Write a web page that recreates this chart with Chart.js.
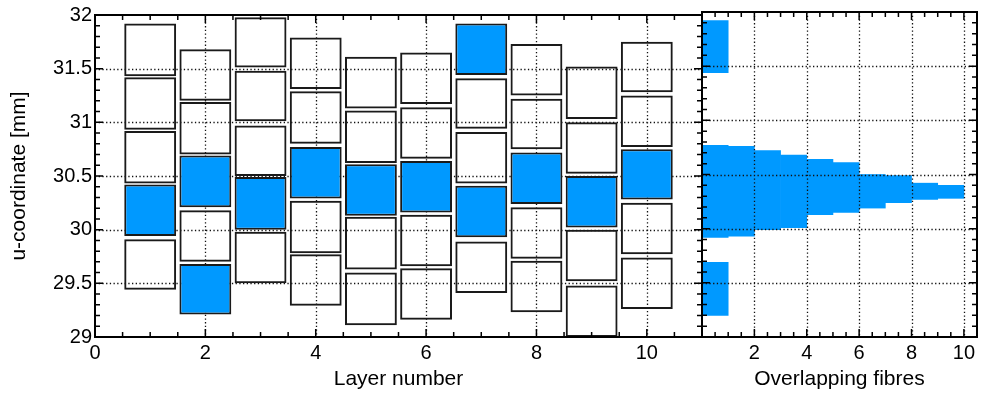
<!DOCTYPE html>
<html lang="en">
<head>
    <meta charset="UTF-8">
    <title>Fibre layers and overlap</title>
    <script src="https://cdn.jsdelivr.net/npm/chart.js@4.4.0/dist/chart.umd.min.js"></script>
    <style>
        * {
            margin: 0;
            padding: 0;
            box-sizing: border-box;
        }

        body {
            background: #fff;
        }

        .wrap {
            position: relative;
            width: 983px;
            height: 396px;
        }

        .wrap canvas {
            position: absolute;
            top: 0;
        }
    </style>
</head>
<body>
    <div class="wrap">
        <canvas id="layersChart" width="705" height="396" style="left:0"></canvas>
        <canvas id="overlapChart" width="293" height="396" style="left:690px"></canvas>
    </div>

    <script>
        // Fibre positions per layer (top fibre first), u in mm
        const layerNumbers = [1, 2, 3, 4, 5, 6, 7, 8, 9, 10];
        const fibreLow = [
            [31.43, 30.93, 30.43, 29.94, 29.44],
            [31.20, 30.70, 30.21, 29.70, 29.21],
            [31.51, 31.01, 30.50, 30.00, 29.50],
            [31.31, 30.80, 30.29, 29.78, 29.29],
            [31.13, 30.62, 30.13, 29.63, 29.11],
            [31.17, 30.66, 30.16, 29.66, 29.16],
            [31.44, 30.94, 30.43, 29.93, 29.41],
            [31.25, 30.75, 30.24, 29.73, 29.23],
            [31.03, 30.52, 30.02, 29.52, 29.00],
            [31.28, 30.77, 30.28, 29.77, 29.26]
        ];
        const fibreHigh = [
            [31.92, 31.42, 30.92, 30.42, 29.91],
            [31.68, 31.19, 30.69, 30.18, 29.68],
            [31.98, 31.48, 30.97, 30.49, 29.98],
            [31.79, 31.29, 30.77, 30.27, 29.77],
            [31.61, 31.11, 30.61, 30.12, 29.60],
            [31.65, 31.14, 30.64, 30.14, 29.64],
            [31.92, 31.41, 30.91, 30.41, 29.89],
            [31.73, 31.22, 30.72, 30.21, 29.71],
            [31.52, 31.00, 30.50, 30.00, 29.48],
            [31.75, 31.25, 30.75, 30.25, 29.74]
        ];
        // index of the fibres that were hit in each layer
        const hitFibre = [[3], [2, 4], [3], [2], [2], [2], [0, 3], [2], [2], [2]];

        // Overlap histogram
        const overlapBinCentre = [0.5, 1.5, 2.5, 3.5, 4.5, 5.5, 6.5, 7.5, 8.5, 9.5];
        const overlapLow = [29.92, 29.93, 29.99, 30.01, 30.13, 30.15, 30.19, 30.24, 30.27, 30.28];
        const overlapHigh = [30.77, 30.76, 30.72, 30.68, 30.64, 30.61, 30.50, 30.49, 30.42, 30.40];
        const singleBinCentre = [0.5, 0.5];
        const singleLow = [31.44, 29.20];
        const singleHigh = [31.92, 29.69];

        // Axis ticks
        const layerTicks = [0, 2, 4, 6, 8, 10];
        const overlapTicks = [2, 4, 6, 8, 10];
        const uTicks = [29, 29.5, 30, 30.5, 31, 31.5, 32];

        const BLUE = '#0099ff';
        const FAMILY = "'Liberation Sans', Helvetica, Arial, sans-serif";
        const FONT = { family: FAMILY, size: 20 };
        const TITLE_FONT = { family: FAMILY, size: 21 };

        function range(a, b, step) {
            const out = [];
            for (let v = a; v <= b + 1e-9; v += step) out.push(Math.round(v * 100) / 100);
            return out;
        }

        // frame, inward ticks and dotted grid
        function drawGrid(chart, o) {
            const { ctx, chartArea: a, scales: { x, y } } = chart;
            ctx.save();
            ctx.strokeStyle = '#111';
            ctx.lineWidth = 1.3;
            ctx.setLineDash([1.3, 2.4]);
            ctx.beginPath();
            o.xGrid.forEach(v => {
                const px = Math.round(x.getPixelForValue(v)) + 0.5;
                ctx.moveTo(px, a.top);
                ctx.lineTo(px, a.bottom);
            });
            o.yGrid.forEach(v => {
                const py = Math.round(y.getPixelForValue(v)) + 0.5;
                ctx.moveTo(a.left, py);
                ctx.lineTo(a.right, py);
            });
            ctx.stroke();
            ctx.restore();
        }

        function drawFrame(chart, o) {
            const { ctx, chartArea: a, scales: { x, y } } = chart;
            ctx.save();
            ctx.strokeStyle = '#000';
            ctx.lineWidth = 1.5;
            ctx.beginPath();
            const xt = (vals, len) => vals.forEach(v => {
                const px = x.getPixelForValue(v);
                ctx.moveTo(px, a.top); ctx.lineTo(px, a.top + len);
                ctx.moveTo(px, a.bottom); ctx.lineTo(px, a.bottom - len);
            });
            const yt = (vals, len) => vals.forEach(v => {
                const py = y.getPixelForValue(v);
                ctx.moveTo(a.left, py); ctx.lineTo(a.left + len, py);
                ctx.moveTo(a.right, py); ctx.lineTo(a.right - len, py);
            });
            xt(o.xMinor, 5); xt(o.xMajor, 8);
            yt(o.yMinor, 5); yt(o.yMajor, 8);
            ctx.stroke();
            ctx.lineWidth = 2;
            ctx.strokeRect(a.left, a.top, a.right - a.left, a.bottom - a.top);
            ctx.restore();
        }

        const frameTicks = {
            id: 'frameTicks',
            beforeDatasetsDraw(chart, args, o) {
                if (!o.gridOnTop) drawGrid(chart, o);
            },
            afterDatasetsDraw(chart, args, o) {
                if (o.gridOnTop) drawGrid(chart, o);
                drawFrame(chart, o);
            }
        };

        function xScale(max, ticks, title) {
            return {
                type: 'linear', min: 0, max: max, offset: false,
                grid: { display: false, offset: false, drawTicks: false },
                border: { display: false },
                afterBuildTicks: s => { s.ticks = ticks.map(v => ({ value: v })); },
                afterFit: s => { s.height = 59; },
                ticks: { color: '#000', font: FONT, padding: 4, maxRotation: 0, callback: v => String(v) },
                title: { display: true, text: title, color: '#000', font: TITLE_FONT, padding: { top: 0, bottom: 4 } }
            };
        }

        function yScale(show) {
            return {
                type: 'linear', min: 29, max: 32, display: show,
                grid: { display: false, drawTicks: false },
                border: { display: false },
                afterBuildTicks: s => { s.ticks = uTicks.map(v => ({ value: v })); },
                afterFit: s => { s.width = show ? 95 : 0; },
                ticks: { color: '#000', font: FONT, padding: 3, callback: v => String(v) },
                title: { display: true, text: 'u-coordinate [mm]', color: '#000', font: TITLE_FONT, padding: { top: 7, bottom: 0 } }
            };
        }

        // Left panel: fibres per layer
        const plainFibres = [];
        const hitFibres = [];
        layerNumbers.forEach((layer, i) => {
            fibreLow[i].forEach((lo, j) => {
                const point = { x: layer, y: [lo, fibreHigh[i][j]] };
                (hitFibre[i].includes(j) ? hitFibres : plainFibres).push(point);
            });
        });

        const barStyle = {
            grouped: false,
            barPercentage: 0.94,
            categoryPercentage: 1,
            borderWidth: 2,
            borderColor: '#1a1a1a',
            borderSkipped: false
        };

        new Chart(document.getElementById('layersChart'), {
            type: 'bar',
            data: {
                datasets: [
                    Object.assign({ data: plainFibres, backgroundColor: 'rgba(255,255,255,0)' }, barStyle),
                    Object.assign({ data: hitFibres, backgroundColor: BLUE }, barStyle)
                ]
            },
            options: {
                responsive: false,
                animation: false,
                devicePixelRatio: 1,
                layout: { padding: { top: 12, right: 3, left: 0, bottom: 0 } },
                scales: { x: xScale(11, layerTicks, 'Layer number'), y: yScale(true) },
                plugins: {
                    legend: { display: false },
                    tooltip: { enabled: false },
                    frameTicks: {
                        gridOnTop: false,
                        xGrid: [2, 4, 6, 8, 10], yGrid: [29.5, 30, 30.5, 31, 31.5],
                        xMajor: layerTicks, xMinor: range(0, 11, 0.5),
                        yMajor: uTicks, yMinor: range(29, 32, 0.1)
                    }
                }
            },
            plugins: [frameTicks]
        });

        // Right panel: number of overlapping fibres
        const overlapBars = overlapBinCentre.map((c, i) => ({ x: c, y: [overlapLow[i], overlapHigh[i]] }));
        const singleBars = singleBinCentre.map((c, i) => ({ x: c, y: [singleLow[i], singleHigh[i]] }));

        const histStyle = {
            grouped: false,
            barPercentage: 1,
            categoryPercentage: 1,
            borderWidth: 0,
            backgroundColor: BLUE
        };

        new Chart(document.getElementById('overlapChart'), {
            type: 'bar',
            data: {
                datasets: [
                    Object.assign({ data: overlapBars }, histStyle),
                    Object.assign({ data: singleBars }, histStyle)
                ]
            },
            options: {
                responsive: false,
                animation: false,
                devicePixelRatio: 1,
                layout: { padding: { top: 12, right: 6, left: 12, bottom: 0 } },
                scales: { x: xScale(10.5, overlapTicks, 'Overlapping fibres'), y: yScale(false) },
                plugins: {
                    legend: { display: false },
                    tooltip: { enabled: false },
                    frameTicks: {
                        gridOnTop: true,
                        xGrid: [2, 4, 6, 8, 10], yGrid: [29.5, 30, 30.5, 31, 31.5],
                        xMajor: overlapTicks, xMinor: range(0, 10.5, 0.5),
                        yMajor: uTicks, yMinor: range(29, 32, 0.1)
                    }
                }
            },
            plugins: [frameTicks]
        });
    </script>
</body>
</html>
